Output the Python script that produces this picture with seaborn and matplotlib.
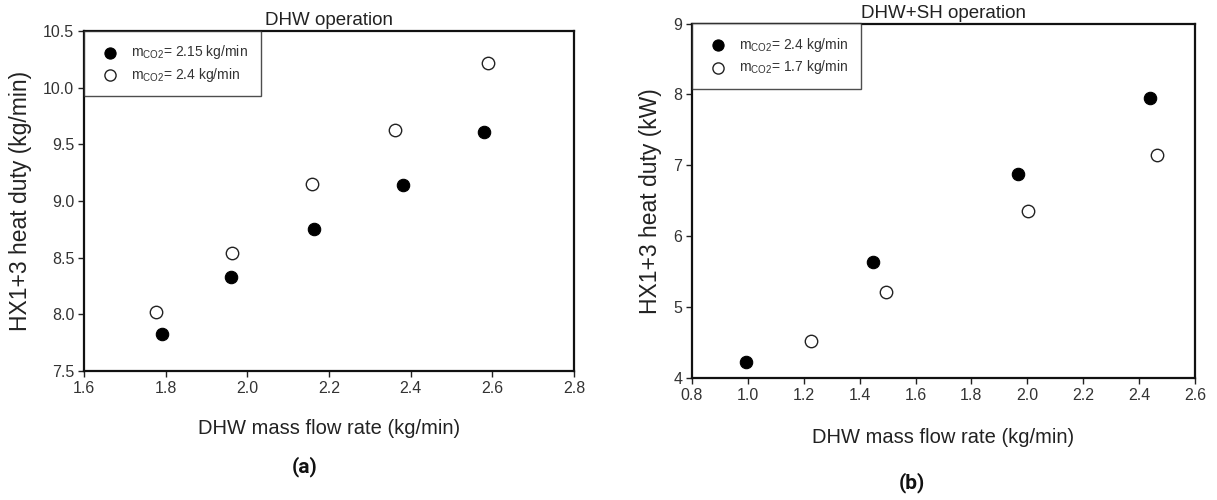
import matplotlib
matplotlib.use("Agg")
import matplotlib.pyplot as plt
import seaborn as sns
import pandas as pd

sns.set_theme(style="white")
plt.rcParams["font.family"] = ["Liberation Sans", "DejaVu Sans"]
plt.rcParams["mathtext.fontset"] = "custom"
plt.rcParams["mathtext.rm"] = "Liberation Sans"

# (a) DHW operation
a_flow_215 = [1.79, 1.96, 2.164, 2.381, 2.58]
a_duty_215 = [7.83, 8.33, 8.75, 9.14, 9.61]
a_flow_24 = [1.776, 1.962, 2.159, 2.362, 2.59]
a_duty_24 = [8.02, 8.54, 9.15, 9.63, 10.22]
a_labels = [r"m$_{\mathregular{CO2}}$= 2.15 kg/min", r"m$_{\mathregular{CO2}}$= 2.4 kg/min"]
a_xticks = [1.6, 1.8, 2.0, 2.2, 2.4, 2.6, 2.8]
a_yticks = [7.5, 8.0, 8.5, 9.0, 9.5, 10.0, 10.5]

# (b) DHW+SH operation
b_flow_24 = [0.995, 1.449, 1.966, 2.44]
b_duty_24 = [4.22, 5.63, 6.876, 7.955]
b_flow_17 = [1.225, 1.494, 2.004, 2.463]
b_duty_17 = [4.52, 5.21, 6.35, 7.14]
b_labels = [r"m$_{\mathregular{CO2}}$= 2.4 kg/min", r"m$_{\mathregular{CO2}}$= 1.7 kg/min"]
b_xticks = [0.8, 1.0, 1.2, 1.4, 1.6, 1.8, 2.0, 2.2, 2.4, 2.6]
b_yticks = [4, 5, 6, 7, 8, 9]

fig = plt.figure(figsize=(12.17, 5.0), dpi=100)
ax_a = fig.add_axes([0.069, 0.258, 0.4027, 0.680])
ax_b = fig.add_axes([0.5686, 0.244, 0.4133, 0.709])

MS = 80


def draw(ax, fx, fy, ox, oy, labels, xt, yt, title, ylabel, yfmt, xpad):
    df_f = pd.DataFrame({"x": fx, "y": fy})
    df_o = pd.DataFrame({"x": ox, "y": oy})
    sns.scatterplot(data=df_f, x="x", y="y", ax=ax, s=MS, color="black",
                    edgecolor="black", linewidth=0.8, label=labels[0], zorder=3)
    sns.scatterplot(data=df_o, x="x", y="y", ax=ax, s=MS, color="white",
                    edgecolor="#222222", linewidth=1.0, label=labels[1], zorder=3)
    ax.set_xlim(xt[0], xt[-1])
    ax.set_ylim(yt[0], yt[-1])
    ax.set_xticks(xt)
    ax.set_yticks(yt)
    ax.set_xticklabels([f"{v:.1f}" for v in xt])
    ax.set_yticklabels([yfmt(v) for v in yt])
    ax.tick_params(axis="both", which="both", direction="out", length=4,
                   width=1, color="#222222", labelsize=11.5, labelcolor="#333333",
                   bottom=True, left=True, top=False, right=False, pad=3)
    for sp in ax.spines.values():
        sp.set_visible(True)
        sp.set_color("#111111")
        sp.set_linewidth(1.6)
    ax.set_xlabel("DHW mass flow rate (kg/min)", fontsize=14.5, color="#222222", labelpad=xpad)
    ax.set_ylabel(ylabel, fontsize=16.5, color="#222222", labelpad=8)
    ax.set_title(title, fontsize=13.5, color="#222222", pad=4)
    leg = ax.legend(loc="upper left", borderaxespad=0, frameon=True, fancybox=False,
                    fontsize=10, handletextpad=0.5, borderpad=0.9, labelspacing=0.3,
                    handlelength=2.0, markerscale=0.9)
    leg.get_frame().set_edgecolor("#222222")
    leg.get_frame().set_linewidth(1.0)
    for t in leg.get_texts():
        t.set_color("#333333")


draw(ax_a, a_flow_215, a_duty_215, a_flow_24, a_duty_24, a_labels, a_xticks, a_yticks,
     "DHW operation", "HX1+3 heat duty (kg/min)", lambda v: f"{v:.1f}", 17)
draw(ax_b, b_flow_24, b_duty_24, b_flow_17, b_duty_17, b_labels, b_xticks, b_yticks,
     "DHW+SH operation", "HX1+3 heat duty (kW)", lambda v: f"{v:.0f}", 18)

fig.text(305 / 1217, 1 - 467 / 500, "(a)", ha="center", va="center",
         fontsize=15, fontweight="bold", family=["Roboto", "DejaVu Sans"], color="#111111")
fig.text(912 / 1217, 1 - 483 / 500, "(b)", ha="center", va="center",
         fontsize=15, fontweight="bold", family=["Roboto", "DejaVu Sans"], color="#111111")

fig.savefig("out.png", dpi=100, facecolor="white")
